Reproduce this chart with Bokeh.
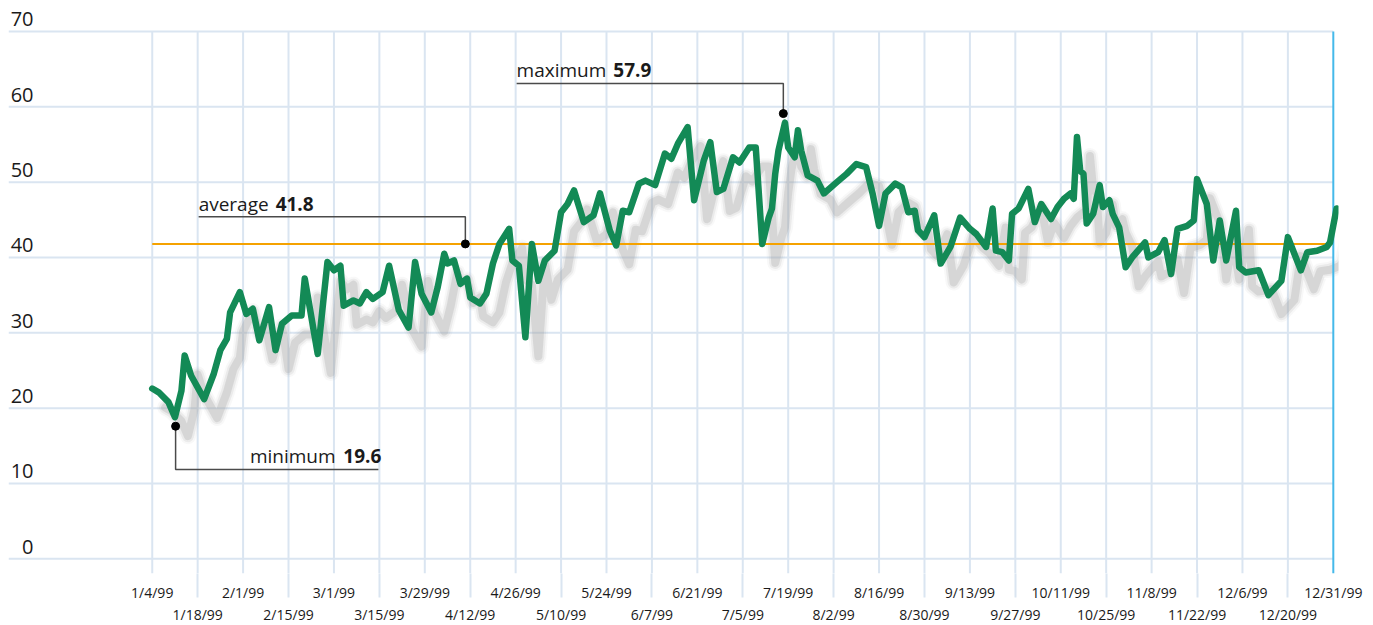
from bokeh.plotting import figure
from bokeh.models import Range1d, FixedTicker, LinearAxis
from bokeh.embed import file_html
from bokeh.resources import INLINE
from bokeh.core.properties import value

# ---------------- data ----------------
# x = calendar days since 1/4/99, y = price
day = [0, 2, 5, 7, 9, 10, 12, 16, 19, 21, 23, 24, 27, 29, 31, 33, 36, 38, 40, 43,
       46, 47, 51, 54, 56, 58, 59, 62, 64, 66, 68, 71, 73, 76, 79, 81, 83, 86, 88, 90,
       91, 93, 95, 97, 98, 101, 103, 105, 107, 110, 111, 113, 115, 117, 119, 121, 124, 126, 128, 130,
       133, 136, 138, 141, 143, 145, 147, 150, 152, 155, 158, 160, 162, 165, 167, 170, 172, 174, 176, 179,
       181, 184, 186, 188, 190, 191, 192, 193, 195, 196, 198, 199, 200, 202, 205, 207, 211, 214, 217, 220,
       222, 224, 226, 229, 231, 233, 235, 236, 238, 241, 243, 246, 249, 252, 254, 257, 259, 260, 262, 264,
       265, 267, 270, 272, 274, 277, 279, 281, 283, 284, 285, 286, 287, 288, 290, 292, 293, 295, 296, 298,
       300, 302, 306, 307, 310, 312, 314, 316, 319, 321, 322, 325, 327, 329, 331, 334, 335, 337, 341, 344,
       348, 350, 352, 354, 356, 359, 362, 363, 365]
price = [22.6, 22.1, 20.8, 18.8, 22.3, 27.0, 24.3, 21.2, 24.6, 27.7, 29.2, 32.7, 35.4, 32.5, 33.2, 29.0, 33.4, 27.7, 31.2, 32.3,
         32.3, 37.2, 27.2, 39.4, 38.3, 38.9, 33.6, 34.3, 33.9, 35.4, 34.5, 35.4, 38.9, 33.0, 30.7, 39.4, 35.2, 32.7, 36.1, 40.5,
         39.2, 39.6, 36.5, 37.2, 34.7, 33.9, 35.2, 39.2, 41.8, 43.8, 39.6, 38.9, 29.4, 41.8, 36.9, 39.6, 40.9, 46.0, 47.1, 48.9,
         44.7, 45.6, 48.5, 43.6, 41.6, 46.2, 46.0, 49.8, 50.2, 49.6, 53.8, 53.1, 55.1, 57.3, 47.6, 52.9, 55.3, 48.7, 49.1, 53.3,
         52.6, 54.6, 54.6, 41.8, 45.3, 46.5, 51.1, 54.2, 57.9, 54.6, 53.3, 56.9, 54.2, 50.9, 50.2, 48.5, 50.0, 51.1, 52.4, 52.0,
         48.5, 44.2, 48.5, 49.8, 49.3, 46.0, 46.2, 43.6, 42.7, 45.6, 39.2, 41.4, 45.3, 43.8, 43.1, 41.4, 46.5, 40.9, 40.7, 39.6,
         45.8, 46.5, 49.1, 44.7, 47.1, 45.1, 46.7, 47.8, 48.5, 47.8, 56.0, 51.5, 51.1, 44.5, 45.8, 49.6, 46.7, 47.6, 45.8, 44.0,
         38.7, 40.0, 42.0, 40.0, 40.7, 42.3, 37.8, 43.8, 44.2, 44.9, 50.4, 47.1, 39.6, 44.9, 39.6, 46.2, 38.7, 38.0, 38.3, 35.0,
         36.9, 42.7, 40.5, 38.3, 40.7, 40.9, 41.4, 42.0, 46.5]

average_value = 41.8
minimum_value = 19.6
maximum_value = 57.9

tick_days = [0, 14, 28, 42, 56, 70, 84, 98, 112, 126, 140, 154, 168, 182, 196, 210,
             224, 238, 252, 266, 280, 294, 308, 322, 336, 350, 364]
tick_labels = ["1/4/99", "1/18/99", "2/1/99", "2/15/99", "3/1/99", "3/15/99", "3/29/99",
               "4/12/99", "4/26/99", "5/10/99", "5/24/99", "6/7/99", "6/21/99", "7/5/99",
               "7/19/99", "8/2/99", "8/16/99", "8/30/99", "9/13/99", "9/27/99", "10/11/99",
               "10/25/99", "11/8/99", "11/22/99", "12/6/99", "12/20/99", "12/31/99"]
y_ticks = [0, 10, 20, 30, 40, 50, 60, 70]
y_labels = ["0", "10", "20", "30", "40", "50", "60", "70"]

# ---------------- styling / layout ----------------
GRID = "#dae5f1"
GREEN = "#138a56"
ORANGE = "#f5a200"
CYAN = "#45b9ea"
TEXT = "#1a1a1a"
FONT = "Open Sans"

X0, X1 = -44.3, 365.6
Y0, Y1 = -1.95, 73.05
SHADOW_DX, SHADOW_DY = 4.0, 2.52

p = figure(frame_width=1330, frame_height=565, x_range=Range1d(X0, X1), y_range=Range1d(Y0, Y1),
           x_axis_type=None, y_axis_type=None, toolbar_location=None, tools="",
           output_backend="svg", min_border_left=8, min_border_top=8,
           min_border_right=27, min_border_bottom=0)
p.outline_line_color = None
p.background_fill_color = "white"
p.border_fill_color = "white"

p.extra_x_ranges = {"shx": Range1d(X0 - SHADOW_DX, X1 - SHADOW_DX)}
p.extra_y_ranges = {"shy": Range1d(Y0 + SHADOW_DY, Y1 + SHADOW_DY)}

last = tick_days[-1]
top = y_ticks[-1]

# grid
p.segment(x0=tick_days[:-1], y0=[top] * (len(tick_days) - 1), x1=tick_days[:-1],
          y1=[Y0] * (len(tick_days) - 1), line_color=GRID, line_width=2)
p.segment(x0=[X0] * len(y_ticks), y0=y_ticks, x1=[last] * len(y_ticks), y1=y_ticks,
          line_color=GRID, line_width=2)

# y labels (right aligned, sitting above their grid lines)
p.text(x=[X0] * len(y_ticks), y=y_ticks, text=y_labels, x_offset=25, y_offset=-12,
       text_font=value(FONT), text_font_size="20px", text_color=TEXT,
       text_baseline="alphabetic", text_align="right")

# shadow
for w, a in [(16, 0.08), (12, 0.15), (8, 0.28)]:
    p.line(day, price, x_range_name="shx", y_range_name="shy", line_color="#a0a0a0",
           line_alpha=a, line_width=w, line_join="round", line_cap="round")

# average line
p.line([0, last], [average_value, average_value], line_color=ORANGE, line_width=2)

# end line
p.segment(x0=[last], y0=[top], x1=[last], y1=[Y0], line_color=CYAN, line_width=2)

# main line
p.line(day, price, line_color=GREEN, line_width=6.5, line_join="round", line_cap="round")

# annotations
LEAD = "#4a4a4a"
p.line([14.3, 96.5, 96.5], [45.4, 45.4, average_value], line_color=LEAD, line_width=1.5)
p.line([112.3, 194.5, 194.5], [63.1, 63.1, 59.1], line_color=LEAD, line_width=1.5)
p.line([7.2, 7.2, 69.7], [17.6, 11.85, 11.85], line_color=LEAD, line_width=1.5)
p.scatter([96.5, 194.5, 7.2], [average_value, 59.1, 17.6], size=8, color="black")

p.text(x=[14.3, 112.3, 30.1], y=[46.1, 63.8, 12.6], text=["average", "maximum", "minimum"],
       y_offset=-8,
       text_font=value(FONT), text_font_size="19px", text_color=TEXT,
       text_baseline="alphabetic", text_align="left")
p.text(x=[14.3, 112.3, 30.1], y=[46.1, 63.8, 12.6],
       text=[f"{average_value:.1f}", f"{maximum_value:.1f}", f"{minimum_value:.1f}"],
       x_offset=[77, 96.7, 93.4], y_offset=-8,
       text_font=value(FONT), text_font_size="19px", text_font_style="bold", text_color=TEXT,
       text_baseline="alphabetic", text_align="left")

# x axes (two staggered rows)
row1 = tick_days[0::2]
row2 = tick_days[1::2]
lab1 = {d: l for d, l in zip(tick_days[0::2], tick_labels[0::2])}
lab2 = {d: l for d, l in zip(tick_days[1::2], tick_labels[1::2])}

ax1 = LinearAxis(ticker=FixedTicker(ticks=row1, minor_ticks=row2), major_label_overrides=lab1,
                 axis_line_color=None, major_tick_line_color=None, major_tick_out=0, major_tick_in=0,
                 minor_tick_line_color=GRID, minor_tick_line_width=2, minor_tick_out=24, minor_tick_in=0,
                 major_label_standoff=-15, major_label_text_font=FONT,
                 major_label_text_font_size="14px", major_label_text_color=TEXT)
ax2 = LinearAxis(ticker=FixedTicker(ticks=row2), major_label_overrides=lab2,
                 axis_line_color=None, major_tick_line_color=None, major_tick_out=0, major_tick_in=0,
                 minor_tick_line_color=None, major_label_standoff=0, major_label_text_font=FONT,
                 major_label_text_font_size="14px", major_label_text_color=TEXT)
p.add_layout(ax1, "below")
p.add_layout(ax2, "below")

open("out.html", "w").write(file_html(p, INLINE))
